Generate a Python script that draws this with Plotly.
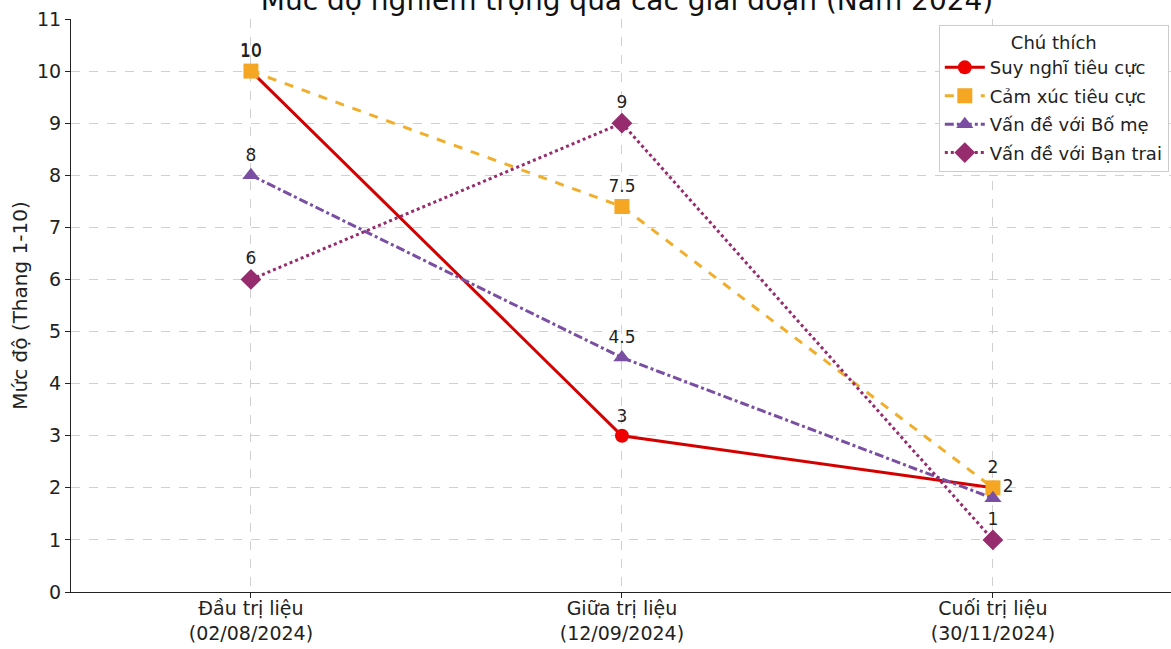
import plotly.graph_objects as go

categories = ["Đầu trị liệu<br>(02/08/2024)", "Giữa trị liệu<br>(12/09/2024)", "Cuối trị liệu<br>(30/11/2024)"]
series_names = ["Suy nghĩ tiêu cực", "Cảm xúc tiêu cực", "Vấn đề với Bố mẹ", "Vấn đề với Bạn trai"]
suy_nghi = [10, 3, 2]
cam_xuc = [10, 7.4, 2]
bo_me = [8, 4.5, 1.8]
ban_trai = [6, 9, 1]
labels_suy_nghi = ["10", "3", "2"]
labels_cam_xuc = ["10", "7.5", "2"]
labels_bo_me = ["8", "4.5", ""]
labels_ban_trai = ["6", "9", "1"]
y_ticks = list(range(0, 12))

xs = [0, 1, 2]
font = "DejaVu Sans"

styles = [
    dict(color="#d40000", mcolor="#ee0000", dash="solid", symbol="circle", msize=14,
         pos=["top center", "top center", "middle right"]),
    dict(color="#f0ae2c", mcolor="#f5a623", dash="dash", symbol="square", msize=15,
         pos=["top center", "top center", "top center"]),
    dict(color="#7a4fa3", mcolor="#7a4fa3", dash="dashdot", symbol="triangle-up", msize=15,
         pos=["top center", "top center", "top center"]),
    dict(color="#962b6e", mcolor="#962b6e", dash="dot", symbol="diamond", msize=16,
         pos=["top center", "top center", "top center"]),
]
data = [suy_nghi, cam_xuc, bo_me, ban_trai]
labels = [labels_suy_nghi, labels_cam_xuc, labels_bo_me, labels_ban_trai]

fig = go.Figure()
for i, (name, ys, lab, st) in enumerate(zip(series_names, data, labels, styles)):
    fig.add_trace(go.Scatter(
        x=xs, y=ys, name=name, mode="lines+markers+text",
        legendgroup=f"g{i}",
        text=lab, textposition=st["pos"],
        textfont=dict(family=font, size=17, color="#222"),
        line=dict(color=st["color"], width=3, dash=st["dash"]),
        marker=dict(symbol=st["symbol"], size=st["msize"], color=st["mcolor"]),
    ))

fig.update_layout(
    width=1171, height=649,
    margin=dict(l=71, r=0, t=19, b=57),
    paper_bgcolor="white", plot_bgcolor="white",
    font=dict(family=font, size=18, color="#222"),
    title=dict(text="Mức độ nghiêm trọng qua các giai đoạn (Năm 2024)",
               x=0.5355, xanchor="center", xref="container",
               y=1.0, yanchor="middle", yref="container",
               font=dict(family=font, size=28, color="#111")),
    legend=dict(
        x=0.998, xanchor="right", y=0.99, yanchor="top",
        bgcolor="white", bordercolor="#cccccc", borderwidth=1,
        font=dict(family=font, size=18, color="#222"),
        title=dict(text="Chú thích", side="top center", font=dict(family=font, size=18)),
        itemwidth=40, tracegroupgap=2,
    ),
    showlegend=True,
)
fig.update_xaxes(
    range=[-0.485, 2.48], tickvals=xs, ticktext=categories,
    showline=True, linecolor="#222", linewidth=1.2,
    ticks="outside", ticklen=5, tickcolor="#222",
    showgrid=True, gridcolor="#d0d0d0", griddash="dash", gridwidth=1,
    zeroline=False, tickfont=dict(family=font, size=19, color="#222"),
    ticklabelstandoff=-6,
)
fig.update_yaxes(
    range=[0, 11], tickvals=y_ticks,
    showline=True, linecolor="#222", linewidth=1.2,
    ticks="outside", ticklen=5, tickcolor="#222",
    showgrid=True, gridcolor="#d0d0d0", griddash="dash", gridwidth=1,
    zeroline=False, tickfont=dict(family=font, size=19, color="#222"),
    title=dict(text="Mức độ (Thang 1-10)", font=dict(family=font, size=20, color="#222"), standoff=3),
)

fig.write_html("out.html", config={"displayModeBar": False},
               post_script="document.body.style.margin='0';document.body.style.overflow='hidden';")
